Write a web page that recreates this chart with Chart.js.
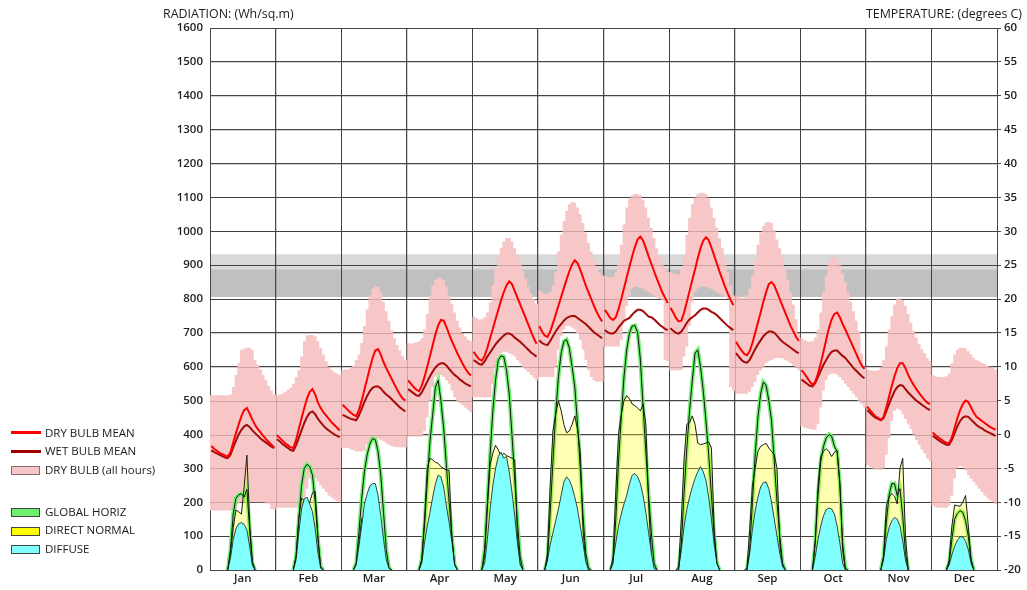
<!DOCTYPE html>
<html>
<head>
<meta charset="utf-8">
<script src="https://cdn.jsdelivr.net/npm/chart.js@4.4.1/dist/chart.umd.min.js"></script>
<style>
  html, body { margin: 0; padding: 0; background: #fff; }
  #wrap { position: relative; width: 1027px; height: 590px; font-family: 'Open Sans', sans-serif; color: #1a1a1a; }
  #c { position: absolute; left: 0; top: 0; }
  .ttl { position: absolute; top: 5px; font-size: 12.4px; white-space: nowrap; }
  .lg { position: absolute; left: 45px; font-size: 11.5px; line-height: 14px; white-space: nowrap; }
  .ln { position: absolute; left: 11px; width: 30px; height: 3px; }
  .bx { position: absolute; left: 11px; width: 27px; height: 7px; border: 1px solid #444; }
</style>
</head>
<body>
<div id="wrap">
  <canvas id="c" width="1027" height="590"></canvas>
  <div class="ttl" style="left:163px;">RADIATION: (Wh/sq.m)</div>
  <div class="ttl" style="right:5px;">TEMPERATURE: (degrees C)</div>

  <div class="ln" style="top:431px;background:#ff0000;"></div>
  <div class="lg" style="top:426px;">DRY BULB MEAN</div>
  <div class="ln" style="top:450px;background:#a00000;"></div>
  <div class="lg" style="top:444px;">WET BULB MEAN</div>
  <div class="bx" style="top:466px;background:rgb(247,198,198);border-color:#8a6d6d;"></div>
  <div class="lg" style="top:463px;">DRY BULB (all hours)</div>

  <div class="bx" style="top:508px;background:rgb(110,240,110);"></div>
  <div class="lg" style="top:505px;">GLOBAL HORIZ</div>
  <div class="bx" style="top:527px;background:rgb(255,255,0);"></div>
  <div class="lg" style="top:523px;">DIRECT NORMAL</div>
  <div class="bx" style="top:545px;background:rgb(128,255,255);"></div>
  <div class="lg" style="top:542px;">DIFFUSE</div>
</div>
<script>
// ---------------- DATA ----------------
const monthLabels = ['Jan','Feb','Mar','Apr','May','Jun','Jul','Aug','Sep','Oct','Nov','Dec'];

// comfort zone bands (degrees C): [bottom, split, top]
const comfortBand = [20.3, 24.4, 26.6];

// hourly (0..23) dry bulb mean per month, degrees C
const dryBulbMean = [
  [-1.7,-2.1,-2.4,-2.7,-2.9,-3.1,-3.3,-2.6,-1.2,0.2,1.5,2.7,3.6,3.9,3.1,2.2,1.4,0.8,0.3,-0.2,-0.7,-1.1,-1.5,-1.9],
  [-0.1,-0.5,-0.9,-1.3,-1.6,-1.9,-2.0,-0.8,0.8,2.4,3.9,5.3,6.3,6.7,5.9,4.7,3.9,3.3,2.8,2.3,1.8,1.4,1.0,0.6],
  [4.4,4.0,3.6,3.2,2.9,2.7,3.6,5.0,6.6,8.2,9.8,11.3,12.4,12.6,11.8,10.7,9.8,9.0,8.2,7.4,6.6,5.9,5.3,5.0],
  [8.0,7.5,7.0,6.6,6.4,7.2,8.5,10.0,11.6,13.2,14.8,16.1,16.9,16.8,15.9,14.8,13.8,12.9,12.0,11.2,10.4,9.7,9.1,8.7],
  [12.2,11.6,11.1,10.9,11.6,12.8,14.2,15.6,17.0,18.4,19.8,21.0,22.0,22.6,22.2,21.2,20.2,19.2,18.2,17.2,16.2,15.2,14.2,13.4],
  [16.0,15.2,14.6,14.4,15.2,16.4,17.7,19.0,20.3,21.6,22.9,24.1,25.1,25.7,25.3,24.3,23.2,22.0,21.0,20.0,19.0,18.1,17.3,16.7],
  [18.4,17.8,17.2,16.9,17.3,18.5,20.0,21.6,23.2,24.8,26.3,27.7,28.8,29.2,28.6,27.5,26.3,25.2,24.1,23.0,22.0,21.0,20.2,19.4],
  [18.7,18.0,17.2,16.7,16.8,18.0,19.6,21.2,22.8,24.4,26.0,27.5,28.6,29.1,28.7,27.6,26.4,25.2,24.0,22.9,21.8,20.8,19.9,19.1],
  [13.7,13.0,12.4,11.9,11.7,12.3,13.5,15.0,16.5,18.0,19.6,21.0,22.2,22.5,22.0,21.0,20.0,19.0,18.0,17.0,16.0,15.2,14.4,13.8],
  [9.5,9.0,8.4,7.8,7.3,7.8,9.0,10.5,12.2,14.0,15.7,17.0,17.8,18.0,17.3,16.3,15.5,14.6,13.7,12.8,11.9,11.0,10.2,9.7],
  [4.1,3.6,3.1,2.7,2.4,2.2,2.6,4.0,5.6,7.2,8.6,9.8,10.5,10.5,9.8,8.8,8.0,7.3,6.7,6.1,5.6,5.1,4.7,4.5],
  [0.3,-0.1,-0.4,-0.7,-1.0,-1.2,-1.3,-0.4,1.0,2.4,3.6,4.5,5.0,4.8,4.0,3.2,2.6,2.3,2.0,1.7,1.4,1.1,0.9,0.7]
];

// hourly wet bulb mean per month, degrees C
const wetBulbMean = [
  [-2.3,-2.6,-2.8,-3.0,-3.2,-3.4,-3.5,-3.0,-1.9,-0.9,0.0,0.7,1.2,1.4,1.1,0.6,0.2,-0.2,-0.6,-0.9,-1.2,-1.5,-1.8,-2.0],
  [-0.7,-1.0,-1.4,-1.7,-2.0,-2.3,-2.4,-1.6,-0.5,0.6,1.7,2.6,3.2,3.4,3.0,2.3,1.8,1.3,0.9,0.6,0.3,0.0,-0.2,-0.4],
  [2.9,2.7,2.5,2.3,2.2,2.1,2.8,3.8,4.8,5.7,6.4,6.9,7.1,7.1,6.8,6.3,5.9,5.6,5.2,4.8,4.4,4.0,3.7,3.4],
  [6.7,6.4,6.1,5.8,5.7,6.2,7.0,7.8,8.6,9.3,9.9,10.3,10.5,10.5,10.2,9.7,9.2,8.8,8.5,8.1,7.8,7.5,7.3,7.1],
  [11.0,10.7,10.4,10.3,10.8,11.5,12.1,12.7,13.3,13.8,14.2,14.6,14.9,14.9,14.7,14.3,14.0,13.7,13.3,12.9,12.5,12.1,11.8,11.5],
  [13.9,13.5,13.3,13.2,13.8,14.5,15.2,15.8,16.3,16.8,17.2,17.4,17.5,17.5,17.2,16.9,16.6,16.3,15.9,15.5,15.1,14.8,14.5,14.2],
  [15.4,15.1,14.9,14.9,15.2,15.8,16.3,16.8,17.0,17.2,17.7,18.1,18.4,18.4,18.2,17.8,17.4,17.3,17.0,16.6,16.2,15.9,15.6,15.4],
  [15.7,15.3,15.0,14.9,15.2,15.8,16.5,17.0,17.3,17.6,18.0,18.4,18.6,18.6,18.4,18.1,17.9,17.6,17.2,16.8,16.4,16.0,15.7,15.4],
  [12.0,11.5,11.0,10.7,10.6,11.0,11.8,12.6,13.3,13.9,14.5,14.9,15.2,15.2,15.0,14.6,14.1,13.7,13.4,13.1,12.8,12.5,12.2,12.0],
  [8.1,7.8,7.5,7.2,7.1,7.6,8.5,9.4,10.3,11.0,11.7,12.2,12.4,12.4,12.0,11.6,11.3,10.8,10.3,9.8,9.4,9.0,8.6,8.3],
  [3.6,3.2,2.8,2.5,2.3,2.1,2.4,3.4,4.5,5.5,6.4,7.0,7.3,7.2,6.7,6.2,5.8,5.4,5.0,4.7,4.4,4.1,3.8,3.6],
  [-0.2,-0.5,-0.8,-1.1,-1.3,-1.5,-1.5,-0.8,0.2,1.2,2.0,2.5,2.7,2.6,2.2,1.8,1.4,1.1,0.9,0.6,0.4,0.2,0.0,-0.2]
];

// hourly dry bulb (all hours) maximum per month
const dryBulbMax = [
  [5.8,5.8,5.8,5.8,5.8,5.8,5.8,5.9,7.0,8.8,10.5,12.5,12.7,12.8,12.8,12.5,11.0,10.3,9.6,8.8,8.0,7.2,6.5,5.9],
  [5.8,5.9,6.0,6.3,6.6,6.9,7.5,8.5,9.5,11.5,13.8,14.6,14.7,14.7,14.5,13.8,12.8,11.8,10.8,10.0,9.5,9.2,9.0,8.8],
  [9.5,9.6,9.6,9.8,10.2,11.0,11.8,13.5,16.0,18.5,20.5,21.5,21.8,21.8,21.0,19.6,18.2,16.8,15.4,14.2,13.2,12.4,11.6,11.0],
  [13.5,13.4,13.5,13.6,13.8,14.2,15.5,17.8,20.5,22.0,22.8,23.1,23.1,22.8,21.8,20.5,19.3,18.0,16.8,15.8,15.0,14.5,14.0,13.8],
  [17.4,17.2,17.0,17.0,17.3,18.0,19.5,22.0,24.5,26.3,27.5,28.5,29.0,29.0,28.5,27.5,26.5,25.3,24.2,23.0,21.8,20.8,20.0,19.3],
  [21.3,21.0,20.8,20.8,21.0,22.0,24.0,27.0,29.5,31.5,33.0,34.0,34.3,34.2,33.5,32.5,31.2,29.8,28.3,27.0,25.8,24.8,24.0,23.5],
  [23.4,23.3,23.2,23.3,24.0,25.5,28.0,31.0,33.5,34.8,35.3,35.5,35.5,35.3,34.6,33.5,32.0,30.5,29.0,27.5,26.3,25.3,24.5,24.0],
  [24.0,23.8,23.6,23.6,24.5,26.5,29.5,32.0,34.0,35.0,35.5,35.7,35.7,35.5,34.8,33.5,32.0,30.5,29.0,27.5,26.0,24.0,22.0,20.5],
  [20.5,20.3,20.2,20.2,20.5,21.5,23.5,25.8,28.0,29.8,30.8,31.3,31.4,31.2,30.2,28.8,27.5,26.0,24.3,22.8,21.0,19.2,17.0,15.0],
  [14.2,14.0,13.8,13.7,13.8,14.3,15.5,18.0,21.0,23.5,25.3,26.1,26.3,26.0,25.0,23.8,22.5,21.0,19.6,18.2,16.8,15.3,12.0,10.0],
  [9.6,9.5,9.4,9.4,9.5,10.0,11.0,13.0,15.5,17.5,19.2,20.0,20.1,19.8,19.0,17.8,16.5,15.3,14.3,13.4,12.6,12.0,11.3,10.8],
  [8.8,8.6,8.5,8.5,8.5,8.6,9.0,10.5,11.8,12.5,12.8,12.8,12.7,12.3,11.8,11.3,11.0,10.8,10.6,10.4,10.2,10.0,9.8,9.6]
];

// hourly dry bulb (all hours) minimum per month
const dryBulbMin = [
  [-11.2,-11.2,-11.2,-11.2,-11.2,-11.2,-11.2,-11.2,-11.2,-11.0,-10.2,-10.0,-10.0,-10.0,-10.0,-10.0,-10.0,-10.0,-10.0,-10.0,-10.2,-10.2,-11.0,-11.1],
  [-10.8,-10.8,-10.8,-10.8,-10.8,-10.8,-10.8,-10.8,-10.6,-10.3,-9.5,-8.0,-6.5,-6.3,-6.5,-7.0,-7.5,-8.0,-8.5,-9.0,-9.3,-9.6,-9.8,-10.0],
  [-2.0,-2.0,-2.0,-2.2,-2.3,-2.5,-2.5,-2.5,-2.4,-1.5,-1.0,-0.8,-0.8,-0.6,-0.8,-1.0,-1.3,-1.5,-1.7,-1.8,-1.9,-1.9,-1.9,-1.9],
  [-0.3,-0.3,-0.3,-0.3,-0.3,-0.3,0.5,2.5,5.0,7.0,8.5,8.8,8.8,8.5,8.0,7.5,6.5,5.5,5.0,4.6,4.3,4.0,3.6,3.3],
  [5.5,5.5,5.5,5.5,5.5,5.5,5.5,7.5,10.0,11.5,12.0,12.2,12.2,12.0,11.8,11.5,11.0,10.5,10.0,9.6,9.2,8.8,8.4,8.0],
  [8.5,8.5,8.5,8.5,8.5,8.5,10.0,12.5,14.5,15.5,16.0,16.0,15.8,15.5,15.0,14.0,12.5,11.0,9.5,8.5,8.0,7.8,7.8,7.8],
  [13.0,13.0,13.0,13.0,13.0,13.0,14.0,16.5,19.0,20.5,21.5,21.8,21.8,21.6,21.5,21.2,21.0,20.8,20.5,20.2,20.0,19.9,11.0,10.8],
  [9.5,9.5,9.5,9.5,9.5,11.5,13.0,16.0,19.5,21.0,21.6,21.8,21.8,21.8,21.6,21.5,21.3,21.0,20.8,20.5,20.3,20.0,7.0,6.5],
  [6.0,6.0,6.0,6.0,6.0,6.3,7.0,7.8,8.8,9.5,10.0,10.5,10.8,11.0,11.2,11.3,11.3,11.2,11.0,10.8,10.5,10.2,9.8,9.5],
  [1.2,1.0,0.9,0.8,0.7,0.7,1.5,4.0,6.5,8.0,8.8,9.0,9.0,8.8,8.5,8.0,7.5,7.0,6.5,6.0,5.5,5.0,4.5,4.0],
  [-4.5,-4.8,-5.0,-5.2,-5.2,-5.2,-5.0,-3.0,-0.5,2.0,3.5,3.8,3.6,3.0,2.3,1.5,0.8,0.0,-0.8,-1.5,-2.2,-2.8,-3.5,-4.0],
  [-10.5,-10.7,-10.8,-10.8,-10.8,-10.8,-10.5,-9.0,-6.5,-5.0,-4.7,-4.8,-5.3,-6.0,-6.5,-7.0,-7.5,-8.0,-8.5,-9.0,-9.4,-9.7,-10.0,-10.3]
];

// hourly radiation per month, Wh/sq.m
const globalHoriz = [
  [0,0,0,0,0,0,0,60,165,212,222,225,215,238,120,20,0,0,0,0,0,0,0,0],
  [0,0,0,0,0,0,0,40,150,250,300,312,305,280,200,90,10,0,0,0,0,0,0,0],
  [0,0,0,0,0,20,110,210,290,340,372,388,385,350,280,170,60,5,0,0,0,0,0,0],
  [0,0,0,0,0,30,130,260,380,460,540,560,500,420,310,200,100,15,0,0,0,0,0,0],
  [0,0,0,0,60,200,340,470,560,620,632,630,590,520,400,270,140,40,0,0,0,0,0,0],
  [0,0,0,30,170,320,460,570,640,675,680,655,600,540,430,300,160,50,5,0,0,0,0,0],
  [0,0,0,20,150,320,450,570,650,700,720,722,700,620,480,350,220,110,20,0,0,0,0,0],
  [0,0,0,0,80,230,360,470,560,640,650,600,530,440,340,220,100,20,0,0,0,0,0,0],
  [0,0,0,0,0,60,200,340,450,520,555,545,500,440,320,200,100,20,0,0,0,0,0,0],
  [0,0,0,0,0,80,220,320,365,390,400,395,365,350,250,80,5,0,0,0,0,0,0,0],
  [0,0,0,0,0,0,40,140,220,255,255,220,240,160,50,0,0,0,0,0,0,0,0,0],
  [0,0,0,0,0,0,20,90,150,167,175,170,145,100,30,0,0,0,0,0,0,0,0,0]
];
const directNormal = [
  [0,0,0,0,0,0,0,50,125,177,172,165,246,339,140,25,0,0,0,0,0,0,0,0],
  [0,0,0,0,0,0,0,40,150,212,205,195,200,228,232,100,0,0,0,0,0,0,0,0],
  [0,0,0,0,0,10,80,150,162,168,172,178,216,170,110,50,10,0,0,0,0,0,0,0],
  [0,0,0,0,0,30,150,300,330,325,318,315,305,300,295,295,100,10,0,0,0,0,0,0],
  [0,0,0,0,40,180,310,345,368,355,335,345,338,334,330,325,100,15,0,0,0,0,0,0],
  [0,0,0,50,250,410,460,500,470,430,405,410,430,455,415,350,120,20,0,0,0,0,0,0],
  [0,0,0,40,230,400,460,500,515,505,490,485,478,470,490,430,200,40,0,0,0,0,0,0],
  [0,0,0,10,150,330,430,435,455,430,375,370,372,375,378,360,120,15,0,0,0,0,0,0],
  [0,0,0,0,5,120,250,300,350,365,370,374,360,350,340,300,80,10,0,0,0,0,0,0],
  [0,0,0,0,0,90,250,335,350,358,350,335,348,352,260,60,0,0,0,0,0,0,0,0],
  [0,0,0,0,0,0,40,190,215,226,218,195,300,330,100,0,0,0,0,0,0,0,0,0],
  [0,0,0,0,0,0,30,130,192,190,188,200,220,130,30,0,0,0,0,0,0,0,0,0]
];
const diffuse = [
  [0,0,0,0,0,0,0,35,90,122,137,140,135,118,70,15,0,0,0,0,0,0,0,0],
  [0,0,0,0,0,0,0,30,110,180,210,215,195,172,120,50,5,0,0,0,0,0,0,0],
  [0,0,0,0,0,15,70,130,195,225,248,255,255,220,160,90,30,5,0,0,0,0,0,0],
  [0,0,0,0,0,20,80,130,170,215,255,280,275,245,190,140,85,20,0,0,0,0,0,0],
  [0,0,0,0,20,90,180,250,300,335,348,330,335,290,230,160,80,15,0,0,0,0,0,0],
  [0,0,0,30,75,110,145,180,220,260,275,265,245,215,180,130,80,25,0,0,0,0,0,0],
  [0,0,0,30,80,130,165,195,220,255,280,285,275,255,220,170,110,50,5,0,0,0,0,0],
  [0,0,0,5,60,130,180,215,245,270,290,305,290,265,215,150,75,20,0,0,0,0,0,0],
  [0,0,0,0,0,50,120,175,215,245,258,260,240,200,150,100,50,10,0,0,0,0,0,0],
  [0,0,0,0,0,40,90,130,160,178,183,180,165,130,80,20,0,0,0,0,0,0,0,0],
  [0,0,0,0,0,0,30,90,125,145,155,150,130,85,30,0,0,0,0,0,0,0,0,0],
  [0,0,0,0,0,0,15,45,70,88,98,98,85,60,20,0,0,0,0,0,0,0,0,0]
];

// ---------------- BUILD SERIES ----------------
const HOURS = 24;
function monthlySeries(arr) {
  const pts = [];
  arr.forEach((vals, m) => {
    vals.forEach((v, h) => pts.push({ x: m * HOURS + h + 0.5, y: v }));
    pts.push({ x: m * HOURS + HOURS, y: null });
  });
  return pts;
}
function daylightSeries(arr) {
  const pts = [];
  arr.forEach((vals, m) => {
    const i0 = vals.findIndex(v => v > 0);
    const i1 = vals.length - 1 - [...vals].reverse().findIndex(v => v > 0);
    if (i0 >= 0) {
      const a = Math.max(0, i0 - 1), b = Math.min(vals.length - 1, i1 + 1);
      for (let h = a; h <= b; h++) pts.push({ x: m * HOURS + h + 0.5, y: vals[h] });
    }
    pts.push({ x: m * HOURS + HOURS, y: null });
  });
  return pts;
}
// closed outline of the hourly min..max band: max steps forward, min steps back
function bandOutline(mins, maxs) {
  const hi = maxs.flat(), lo = mins.flat();
  const pts = [];
  hi.forEach((v, i) => { pts.push({ x: i, y: v }); pts.push({ x: i + 1, y: v }); });
  for (let i = lo.length - 1; i >= 0; i--) { pts.push({ x: i + 1, y: lo[i] }); pts.push({ x: i, y: lo[i] }); }
  return pts;
}

const GRID = '#474747';
const TXT = '#1e1e1e';
Chart.defaults.font.family = "'Open Sans', sans-serif";
Chart.defaults.font.size = 11.5;
Chart.defaults.font.weight = '600';
Chart.defaults.color = TXT;

const bandPlugin = {
  id: 'band',
  beforeDraw(chart) {
    const { ctx, chartArea: a } = chart;
    const s = chart.scales.y2;
    ctx.save();
    ctx.fillStyle = '#fff';
    ctx.fillRect(0, 0, chart.width, chart.height);
    const yTop = s.getPixelForValue(comfortBand[2]);
    const yMid = s.getPixelForValue(comfortBand[1]);
    const yBot = s.getPixelForValue(comfortBand[0]);
    ctx.fillStyle = 'rgb(217,217,217)';
    ctx.fillRect(a.left, yTop, a.right - a.left, yMid - yTop);
    ctx.fillStyle = 'rgb(192,192,192)';
    ctx.fillRect(a.left, yMid, a.right - a.left, yBot - yMid);
    ctx.restore();
  },
  // faint grid showing through the pink band
  afterDatasetDraw(chart, args) {
    if (args.index !== 0) return;
    const { ctx, chartArea: a } = chart;
    const xs = chart.scales.x, ys = chart.scales.y;
    ctx.save();
    ctx.beginPath();
    ctx.rect(a.left, a.top, a.right - a.left, a.bottom - a.top);
    ctx.clip();
    ctx.strokeStyle = 'rgba(60,40,40,0.22)';
    ctx.lineWidth = 1;
    ctx.beginPath();
    for (let m = 1; m < 12; m++) {
      const px = Math.round(xs.getPixelForValue(m * HOURS)) + 0.5;
      ctx.moveTo(px, a.top); ctx.lineTo(px, a.bottom);
    }
    for (let v = 100; v < 1600; v += 100) {
      const py = Math.round(ys.getPixelForValue(v)) + 0.5;
      ctx.moveTo(a.left, py); ctx.lineTo(a.right, py);
    }
    ctx.stroke();
    ctx.restore();
  }
};

const common = { pointRadius: 0, pointHoverRadius: 0, spanGaps: false, tension: 0 };

new Chart(document.getElementById('c'), {
  type: 'line',
  data: {
    datasets: [
      { ...common, label: 'DRY BULB (all hours)', data: bandOutline(dryBulbMin, dryBulbMax), yAxisID: 'y2',
        borderWidth: 0, borderColor: 'rgba(0,0,0,0)', backgroundColor: 'rgb(247,198,198)', fill: 'shape', order: 20 },
      { ...common, label: 'GLOBAL glow', data: daylightSeries(globalHoriz), yAxisID: 'y',
        borderColor: 'rgb(110,240,110)', borderWidth: 4, fill: false, order: 9 },
      { ...common, label: 'DIRECT NORMAL', data: daylightSeries(directNormal), yAxisID: 'y',
        borderColor: '#1a1a1a', borderWidth: 1, backgroundColor: 'rgba(255,255,0,0.30)', fill: 'origin', order: 8 },
      { ...common, label: 'DIFFUSE', data: daylightSeries(diffuse), yAxisID: 'y',
        borderColor: 'rgba(30,50,50,0.9)', borderWidth: 1, backgroundColor: 'rgb(128,255,255)', fill: 'origin', order: 7 },
      { ...common, label: 'GLOBAL HORIZ', data: daylightSeries(globalHoriz), yAxisID: 'y',
        borderColor: '#141414', borderWidth: 1, fill: false, order: 6 },
      { ...common, label: 'WET BULB MEAN', data: monthlySeries(wetBulbMean), yAxisID: 'y2',
        borderColor: 'rgb(165,10,10)', borderWidth: 2, fill: false, order: 2 },
      { ...common, label: 'DRY BULB MEAN', data: monthlySeries(dryBulbMean), yAxisID: 'y2',
        borderColor: 'rgb(255,0,0)', borderWidth: 2, fill: false, order: 1 }
    ]
  },
  options: {
    responsive: false,
    animation: false,
    events: [],
    layout: { padding: { top: 28, left: 0, right: 0, bottom: 0 } },
    plugins: { legend: { display: false }, tooltip: { enabled: false }, title: { display: false } },
    scales: {
      x: {
        type: 'linear', min: 0, max: 288, offset: false,
        ticks: {
          stepSize: 12, autoSkip: false, maxRotation: 0, padding: 2, color: TXT,
          font: { size: 11.5, weight: '600' },
          callback: v => (v % 24 === 12 ? monthLabels[(v - 12) / 24] : '')
        },
        grid: {
          drawTicks: false, lineWidth: 1, offset: false,
          color: c => (c.tick && c.tick.value % 24 === 0 ? GRID : 'rgba(0,0,0,0)')
        },
        border: { display: true, color: GRID },
        afterFit: s => { s.height = 20; }
      },
      y: {
        position: 'left', min: 0, max: 1600,
        ticks: { stepSize: 100, padding: 7, color: TXT, font: { size: 11.5, weight: '600' },
                 callback: v => String(v) },
        grid: { color: GRID, drawTicks: false, lineWidth: 1 },
        border: { display: true, color: GRID },
        afterFit: s => { s.width = 210; }
      },
      y2: {
        position: 'right', min: -20, max: 60,
        ticks: { stepSize: 5, padding: 3, color: TXT, font: { size: 11.5, weight: '600' },
                 callback: v => String(v) },
        grid: { drawOnChartArea: false, drawTicks: true, tickLength: 4, color: GRID },
        border: { display: true, color: GRID },
        afterFit: s => { s.width = 30; }
      }
    }
  },
  plugins: [bandPlugin]
});
</script>
</body>
</html>
